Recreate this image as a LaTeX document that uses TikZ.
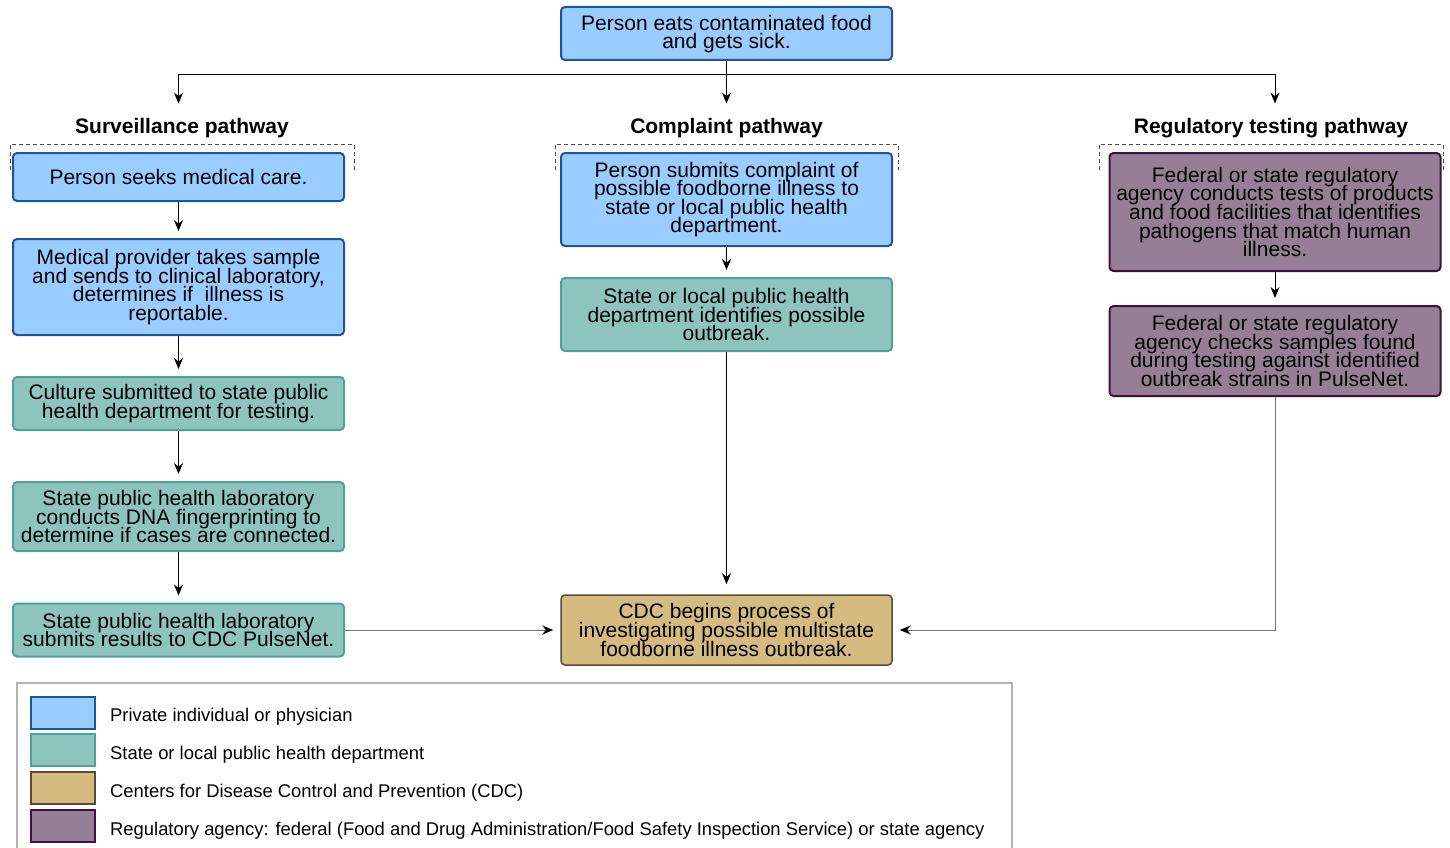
\documentclass[tikz,border=0pt]{standalone}
\usepackage{fontspec}
\setmainfont{Liberation Sans}
\usepackage{tikz}
\usetikzlibrary{arrows.meta}
\definecolor{myblue}{HTML}{99CCFF}
\definecolor{mybluedraw}{HTML}{1F5497}
\definecolor{myteal}{HTML}{8DC4BE}
\definecolor{mytealdraw}{HTML}{4EA396}
\definecolor{mytan}{HTML}{D5BB80}
\definecolor{mytandraw}{HTML}{5B4A38}
\definecolor{mypurple}{HTML}{967E96}
\definecolor{mypurpledraw}{HTML}{3F1040}
\newcommand\boxfont{\fontsize{21}{18.6}\selectfont\lineskiplimit=-20pt\relax}

\begin{document}
\begin{tikzpicture}[x=1pt,y=-1pt,
    box/.style={rounded corners=4pt, line width=2pt, align=center, minimum width=331pt, inner sep=2pt, font=\boxfont},
    bluebox/.style={box, fill=myblue, draw=mybluedraw},
    tealbox/.style={box, fill=myteal, draw=mytealdraw},
    tanbox/.style={box, fill=mytan, draw=mytandraw, line width=1.5pt},
    purplebox/.style={box, fill=mypurple, draw=mypurpledraw},
    head/.style={font=\fontsize{21}{24}\selectfont\bfseries, inner sep=0pt, anchor=base},
    arr/.style={line width=1pt, -{Stealth[length=11pt,width=9pt]}, shorten >=7pt},
    bracket/.style={dashed, dash pattern=on 4pt off 3pt, line width=1pt, black!70},
    swatch/.style={minimum width=64pt, minimum height=32pt, inner sep=0pt, line width=1.5pt},
    key/.style={font=\fontsize{18.4}{20}\selectfont, anchor=west, inner sep=0pt}]
        \useasboundingbox (0,0) rectangle (1450,848);

        % Start
        \node[bluebox, minimum height=53pt, text depth=3pt] (top) at (726.5,33.5) {Person eats contaminated food\\and gets sick.};

        % Pathway headings
        \node[head] (survhead) at (182,133) {Surveillance pathway};
        \node[head] (comphead) at (726.5,133) {Complaint pathway};
        \node[head] (reghead) at (1271,133) {Regulatory testing pathway};
        \draw[bracket] (10,170) -- (10,144) -- (354,144) -- (354,170);
        \draw[bracket] (555,170) -- (555,144) -- (898,144) -- (898,170);
        \draw[bracket] (1099,170) -- (1099,144) -- (1443,144) -- (1443,170);

        % Surveillance pathway
        \node[bluebox, minimum height=48pt] (surv1) at (178.5,177) {Person seeks medical care.};
        \node[bluebox, minimum height=96pt] (surv2) at (178.5,287) {Medical provider takes sample\\and sends to clinical laboratory,\\determines if~ illness is\\reportable.};
        \node[tealbox, minimum height=53pt] (surv3) at (178.5,403.5) {Culture submitted to state public\\health department for testing.};
        \node[tealbox, minimum height=69pt] (surv4) at (178.5,516.5) {State public health laboratory\\conducts DNA fingerprinting to\\determine if cases are connected.};
        \node[tealbox, minimum height=53pt] (surv5) at (178.5,630) {State public health laboratory\\submits results to CDC PulseNet.};

        % Complaint pathway
        \node[bluebox, minimum height=93pt] (comp1) at (726.5,199.5) {Person submits complaint of\\possible foodborne illness to\\state or local public health\\department.};
        \node[tealbox, minimum height=73pt] (comp2) at (726.5,314.5) {State or local public health\\department identifies possible\\outbreak.};

        % Regulatory testing pathway
        \node[purplebox, minimum height=118pt] (reg1) at (1275,212) {Federal or state regulatory\\agency conducts tests of products\\and food facilities that identifies\\pathogens that match human\\illness.};
        \node[purplebox, minimum height=90pt] (reg2) at (1275,351) {Federal or state regulatory\\agency checks samples found\\during testing against identified\\outbreak strains in PulseNet.};

        % CDC
        \node[tanbox, minimum height=70pt] (cdc) at (726.5,630) {CDC begins process of\\investigating possible multistate\\foodborne illness outbreak.};

        % Connectors
        \draw[line width=1pt] (top.south) -- ++(0,14) coordinate (split);
        \draw[arr, shorten >=14pt] (split) -| (survhead.north -| surv1.north);
        \draw[arr, shorten >=14pt] (split) -| (reghead.north -| reg1.north);
        \draw[arr, shorten >=14pt] (split) -- (comphead.north);
        \draw[arr] (surv1) -- (surv2);
        \draw[arr] (surv2) -- (surv3);
        \draw[arr] (surv3) -- (surv4);
        \draw[arr] (surv4) -- (surv5);
        \draw[arr] (comp1) -- (comp2);
        \draw[arr, shorten >=10pt] (comp2) -- (cdc);
        \draw[arr] (reg1) -- (reg2);
        \draw[arr, draw=black!55, -{Stealth[length=11pt,width=9pt,black]}] (surv5.east) -- (cdc.west);
        \draw[arr, draw=black!55, -{Stealth[length=11pt,width=9pt,black]}] (reg2.south) |- (cdc.east);

        % Legend
        \draw[black!30, line width=1.2pt] (17,850) -- (17,683) -- (1012,683) -- (1012,850);
        \node[swatch, fill=myblue, draw=mybluedraw] (keyblue) at (63,713) {};
        \node[swatch, fill=myteal, draw=mytealdraw] (keyteal) at (63,750) {};
        \node[swatch, fill=mytan, draw=mytandraw] (keytan) at (63,788) {};
        \node[swatch, fill=mypurple, draw=mypurpledraw] (keypurple) at (63,826) {};
        \node[key] (txtblue) at (110,717) {Private individual or physician};
        \node[key] (txtteal) at (110,755) {State or local public health department};
        \node[key] (txttan) at (110,793) {Centers for Disease Control and Prevention (CDC)};
        \node[key] (txtpurple) at (110,831) {Regulatory agency: federal (Food and Drug Administration/Food Safety Inspection Service) or state agency};
\end{tikzpicture}
\end{document}
